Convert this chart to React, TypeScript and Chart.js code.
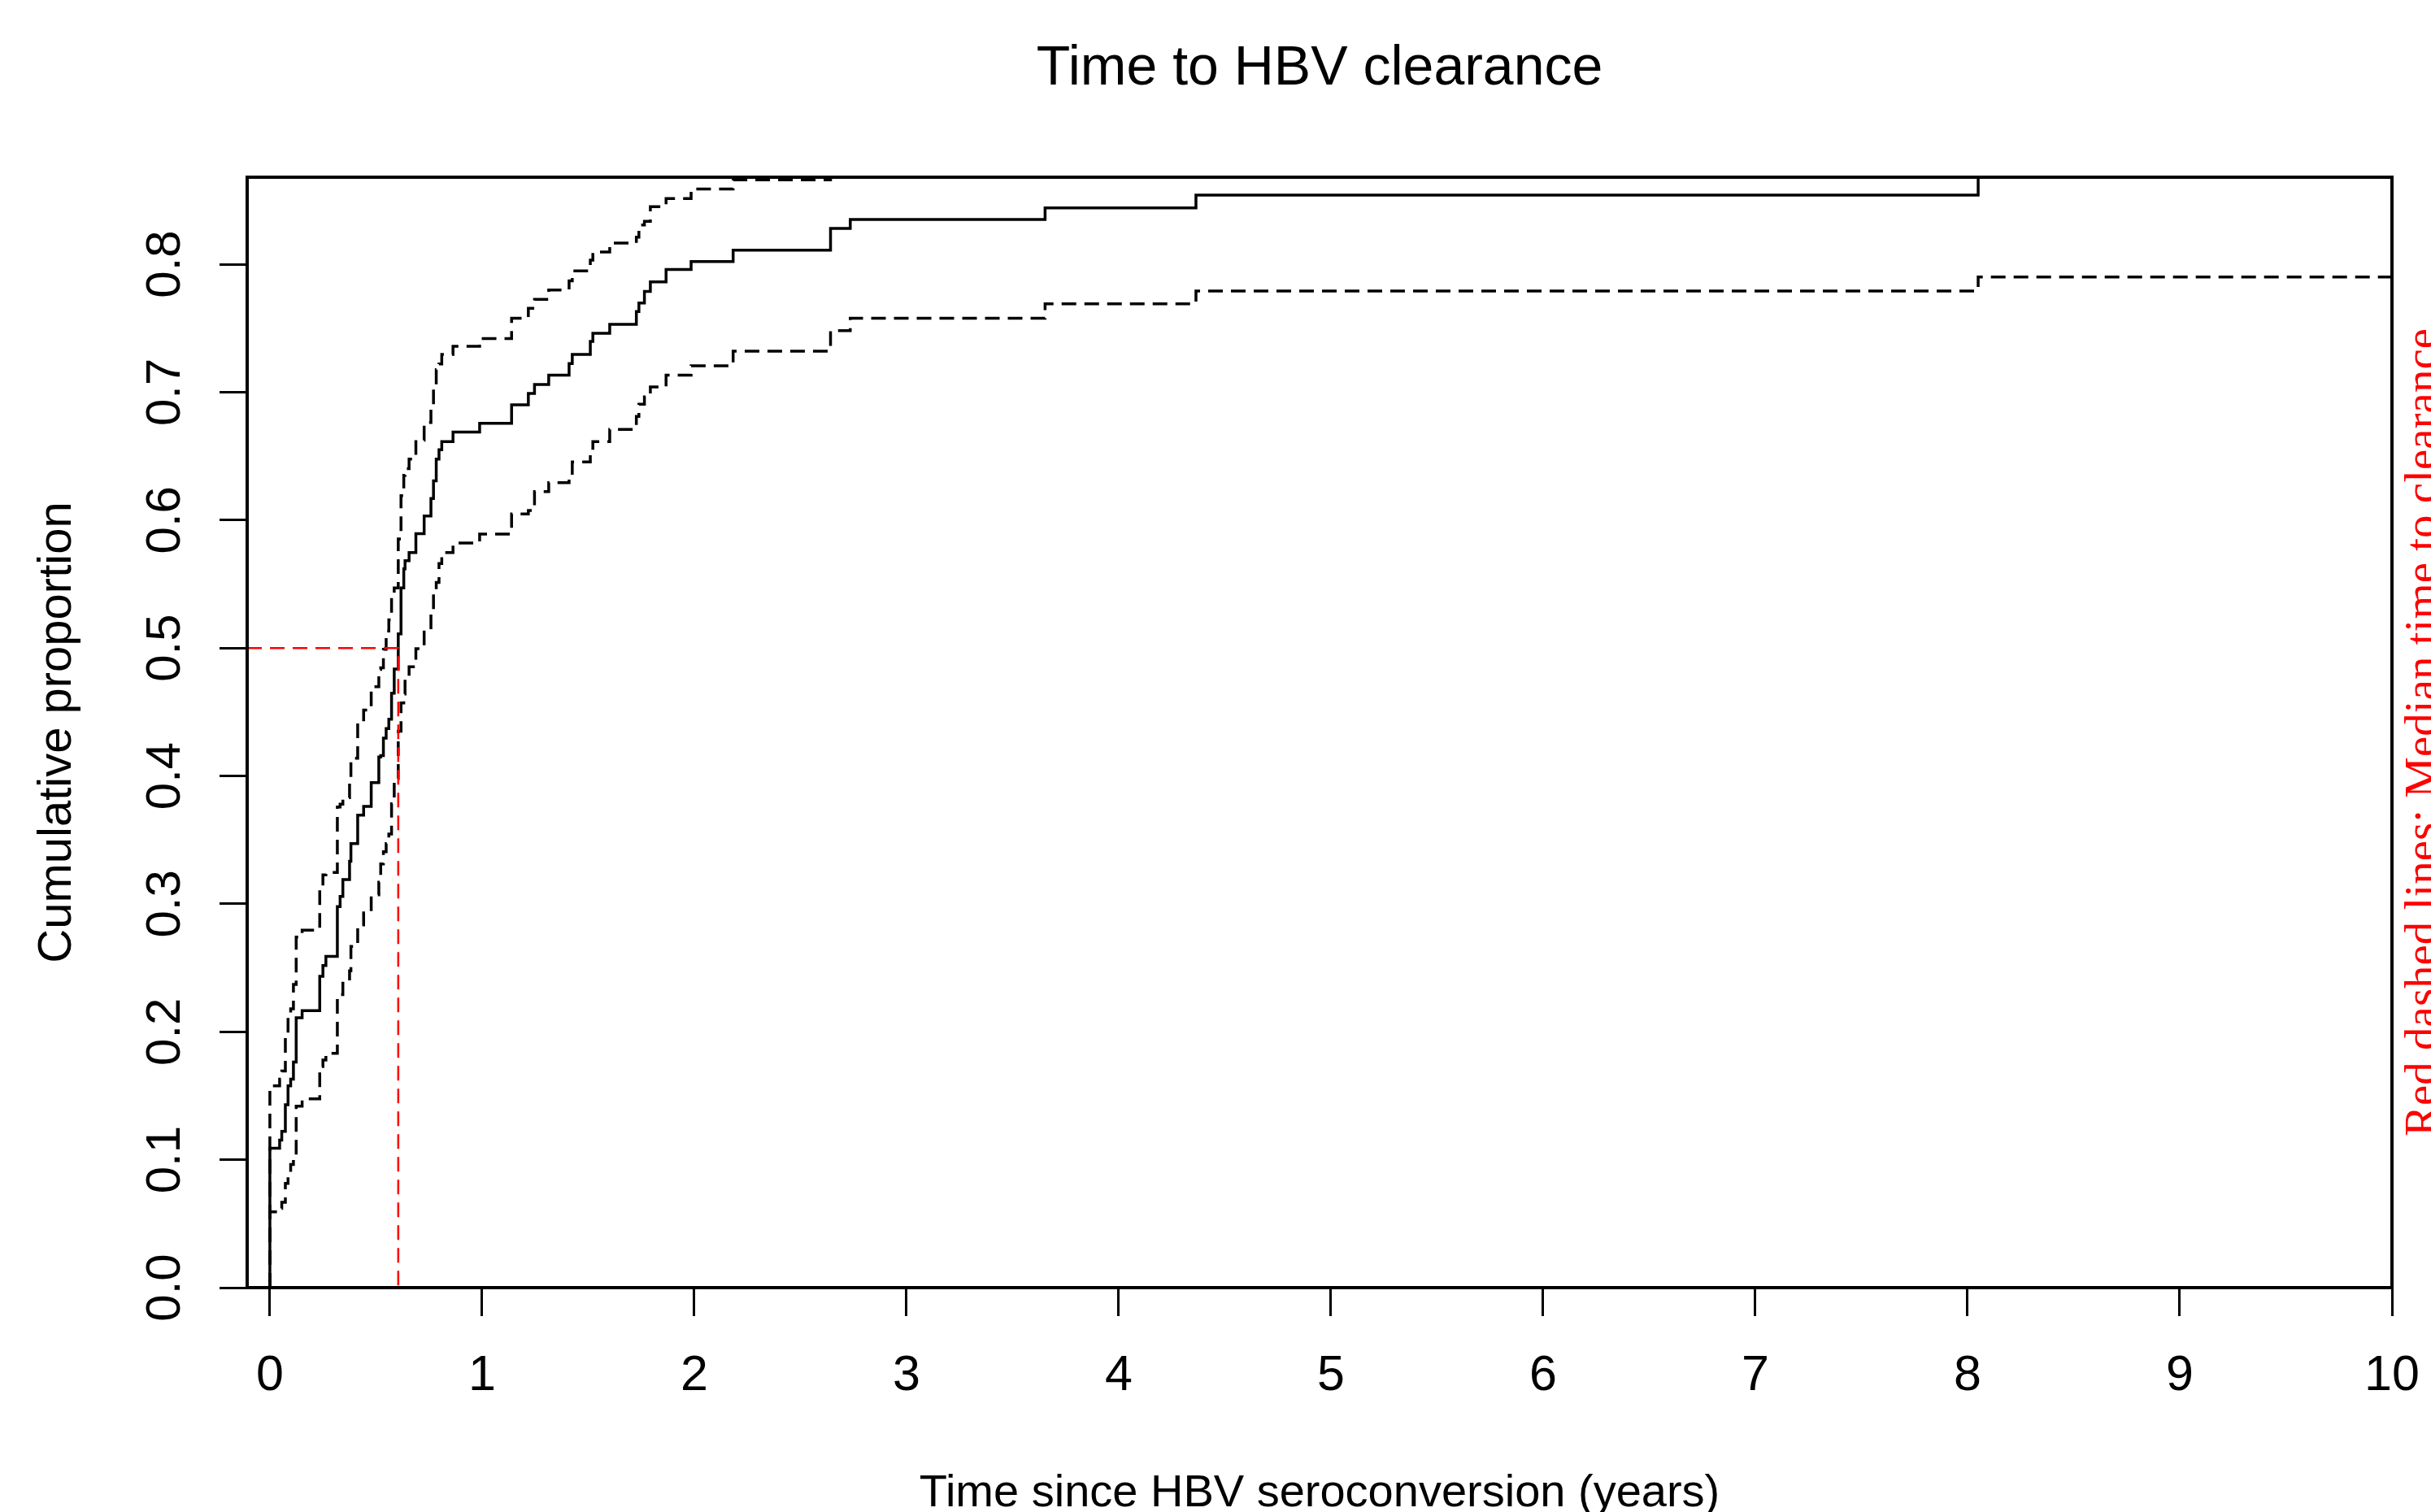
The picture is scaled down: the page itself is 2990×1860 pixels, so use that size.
import React, { useEffect, useRef } from "react";
import { Chart, registerables } from "chart.js";

Chart.register(...registerables);

// ---------- text ----------
const chartTitle = "Time to HBV clearance";
const xAxisTitle = "Time since HBV seroconversion (years)";
const yAxisTitle = "Cumulative proportion";
const sideNote = "Red dashed lines: Median time to clearance";

// ---------- data ----------
const eventTimes = [
  0, 0.046, 0.056, 0.073, 0.0856, 0.098, 0.111, 0.124, 0.152, 0.235, 0.25, 0.264,
  0.318, 0.331, 0.344, 0.3755, 0.3819, 0.4138, 0.4418, 0.4776, 0.5134, 0.5223,
  0.535, 0.548, 0.5606, 0.5734, 0.586, 0.605, 0.618, 0.631, 0.637, 0.656, 0.688,
  0.727, 0.759, 0.771, 0.784, 0.797, 0.81, 0.863, 0.9885, 1.139, 1.218, 1.247,
  1.314, 1.41, 1.425, 1.51, 1.522, 1.6015, 1.727, 1.739, 1.765, 1.793, 1.867,
  1.985, 2.183, 2.642, 2.735, 3.653, 4.364, 8.05,
];

const cumulative = [
  0.109, 0.1153, 0.1221, 0.1429, 0.1577, 0.163, 0.1763, 0.211, 0.2165, 0.2434,
  0.2518, 0.2589, 0.2978, 0.3058, 0.319, 0.3333, 0.3471, 0.3693, 0.3761, 0.3947,
  0.4148, 0.4159, 0.4296, 0.437, 0.4444, 0.4646, 0.4836, 0.5111, 0.547, 0.5619,
  0.5683, 0.5746, 0.5894, 0.6032, 0.6169, 0.6307, 0.6476, 0.655, 0.6614, 0.6688,
  0.6757, 0.69, 0.699, 0.706, 0.7132, 0.7223, 0.7295, 0.7397, 0.746, 0.753,
  0.763, 0.7697, 0.7788, 0.7862, 0.7958, 0.8021, 0.811, 0.828, 0.835, 0.844,
  0.854, 0.93,
];

const upperCI = [
  0.1577, 0.163, 0.1693, 0.1958, 0.2116, 0.218, 0.237, 0.274, 0.2794, 0.3143,
  0.3227, 0.3245, 0.3757, 0.378, 0.383, 0.3979, 0.4138, 0.4413, 0.4514, 0.4698,
  0.4832, 0.4845, 0.4989, 0.5132, 0.522, 0.5397, 0.547, 0.5852, 0.619, 0.635,
  0.6402, 0.6476, 0.6624, 0.6762, 0.6878, 0.7048, 0.7175, 0.722, 0.7295, 0.7359,
  0.7418, 0.7577, 0.7656, 0.7725, 0.7799, 0.787, 0.7947, 0.8032, 0.8095, 0.8165,
  0.8212, 0.8307, 0.8335, 0.845, 0.8513, 0.8588, 0.866, 0.88, 0.886, 0.893,
  0.9, 0.97,
];

const lowerCI = [
  0.0593, 0.062, 0.0667, 0.0815, 0.09, 0.0963, 0.1037, 0.1418, 0.1475, 0.1729,
  0.178, 0.1831, 0.2258, 0.229, 0.2398, 0.2476, 0.2667, 0.2836, 0.293, 0.307,
  0.317, 0.3312, 0.3407, 0.3471, 0.3545, 0.3782, 0.3979, 0.4349, 0.4571, 0.4641,
  0.4783, 0.4853, 0.4995, 0.5137, 0.528, 0.544, 0.5513, 0.566, 0.5746, 0.582,
  0.589, 0.6047, 0.6074, 0.6222, 0.6292, 0.6317, 0.6455, 0.6529, 0.6614, 0.6709,
  0.681, 0.6906, 0.6963, 0.7041, 0.7132, 0.7206, 0.732, 0.748, 0.7577, 0.769,
  0.779, 0.79,
];

const followUpEnd = 10;
const medianTime = 0.605;
const medianLevel = 0.5;

const xTicks = [0, 1, 2, 3, 4, 5, 6, 7, 8, 9, 10];
const yTicks = [0, 0.1, 0.2, 0.3, 0.4, 0.5, 0.6, 0.7, 0.8];

const xMin = -0.107;
const xMax = 10;
const yMin = 0;
const yMax = 0.868;

// ---------- helpers ----------
const SANS = "'Liberation Sans', Arial, Helvetica, sans-serif";
const SERIF = "'Liberation Serif', 'Times New Roman', serif";

function stepPoints(values: number[]) {
  const pts: { x: number; y: number }[] = [{ x: 0, y: 0 }];
  eventTimes.forEach((t, i) => pts.push({ x: t, y: values[i] }));
  pts.push({ x: followUpEnd, y: values[values.length - 1] });
  return pts;
}

const framePlugin = {
  id: "frameAndNote",
  beforeDraw(chart: any) {
    const { ctx, width, height } = chart;
    ctx.save();
    ctx.fillStyle = "#ffffff";
    ctx.fillRect(0, 0, width, height);
    ctx.restore();
  },
  afterDraw(chart: any) {
    const { ctx, chartArea: a } = chart;
    ctx.save();
    ctx.strokeStyle = "#000000";
    ctx.lineWidth = 4;
    ctx.strokeRect(a.left, a.top, a.right - a.left, a.bottom - a.top);
    ctx.restore();

    ctx.save();
    ctx.fillStyle = "#ff0000";
    ctx.font = `57px ${SERIF}`;
    ctx.translate(a.right + 55, (a.top + a.bottom) / 2);
    ctx.rotate(-Math.PI / 2);
    ctx.textAlign = "center";
    ctx.textBaseline = "alphabetic";
    ctx.fillText(sideNote, 0, 0);
    ctx.restore();
  },
};

export default function App() {
  const canvasRef = useRef<HTMLCanvasElement | null>(null);

  useEffect(() => {
    const canvas = canvasRef.current;
    if (!canvas) return;

    const dashed = [18, 10];

    const chart = new Chart(canvas, {
      type: "line",
      data: {
        datasets: [
          {
            label: "Median",
            data: [
              { x: xMin, y: medianLevel },
              { x: medianTime, y: medianLevel },
              { x: medianTime, y: 0 },
            ],
            borderColor: "#ff0000",
            borderWidth: 2.5,
            borderDash: dashed,
            pointRadius: 0,
            fill: false,
            order: 0,
          },
          {
            label: "Estimate",
            data: stepPoints(cumulative),
            borderColor: "#000000",
            borderWidth: 3.5,
            stepped: "before",
            pointRadius: 0,
            fill: false,
            order: 1,
          },
          {
            label: "Upper 95% CI",
            data: stepPoints(upperCI),
            borderColor: "#000000",
            borderWidth: 3.5,
            borderDash: dashed,
            stepped: "before",
            pointRadius: 0,
            fill: false,
            order: 2,
          },
          {
            label: "Lower 95% CI",
            data: stepPoints(lowerCI),
            borderColor: "#000000",
            borderWidth: 3.5,
            borderDash: dashed,
            stepped: "before",
            pointRadius: 0,
            fill: false,
            order: 3,
          },
        ],
      },
      options: {
        animation: false,
        responsive: false,
        devicePixelRatio: 1,
        events: [],
        layout: { padding: { left: 0, right: 48, top: 0, bottom: 0 } },
        plugins: {
          legend: { display: false },
          tooltip: { enabled: false },
          title: {
            display: true,
            text: chartTitle,
            fullSize: false,
            color: "#000000",
            font: { family: SANS, size: 68, weight: "normal", lineHeight: 1.2 },
            padding: { top: 44, bottom: 92.4 },
          },
        },
        scales: {
          x: {
            type: "linear",
            min: xMin,
            max: xMax,
            afterBuildTicks: (s: any) => {
              s.ticks = xTicks.map((v) => ({ value: v }));
            },
            afterFit: (s: any) => {
              s.height = 276;
              s.paddingLeft = 0;
              s.paddingRight = 0;
              s.paddingTop = 0;
              s.paddingBottom = 0;
            },
            border: { display: false },
            grid: {
              display: true,
              drawOnChartArea: false,
              drawTicks: true,
              tickLength: 35,
              lineWidth: 3,
              tickWidth: 3,
              color: "#000000",
              tickColor: "#000000",
            },
            ticks: {
              color: "#000000",
              font: { family: SANS, size: 61 },
              padding: 38,
              autoSkip: false,
              minRotation: 0,
              maxRotation: 0,
              callback: (v: any) => String(v),
            },
            title: {
              display: true,
              text: xAxisTitle,
              color: "#000000",
              font: { family: SANS, size: 56, lineHeight: 0.8 },
              padding: { top: 0, bottom: 0 },
            },
          },
          y: {
            type: "linear",
            min: yMin,
            max: yMax,
            afterBuildTicks: (s: any) => {
              s.ticks = yTicks.map((v) => ({ value: v }));
            },
            afterFit: (s: any) => {
              s.width = 304;
              s.paddingLeft = 0;
              s.paddingRight = 0;
              s.paddingTop = 0;
              s.paddingBottom = 0;
            },
            border: { display: false },
            grid: {
              display: true,
              drawOnChartArea: false,
              drawTicks: true,
              tickLength: 34,
              lineWidth: 3,
              tickWidth: 3,
              color: "#000000",
              tickColor: "#000000",
            },
            ticks: {
              color: "#000000",
              font: { family: SANS, size: 60 },
              padding: 24,
              autoSkip: false,
              minRotation: 90,
              maxRotation: 90,
              crossAlign: "center",
              callback: (v: any) => Number(v).toFixed(1),
            },
            title: {
              display: true,
              text: yAxisTitle,
              color: "#000000",
              font: { family: SANS, size: 58, lineHeight: 1.2 },
              padding: { top: 36, bottom: 0 },
            },
          },
        },
      },
      plugins: [framePlugin],
    } as any);

    return () => {
      chart.destroy();
    };
  }, []);

  return (
    <div style={{ position: "absolute", left: 0, top: 0, width: 2990, height: 1860, background: "#ffffff" }}>
      <canvas ref={canvasRef} width={2990} height={1860} style={{ display: "block", width: 2990, height: 1860 }} />
    </div>
  );
}
